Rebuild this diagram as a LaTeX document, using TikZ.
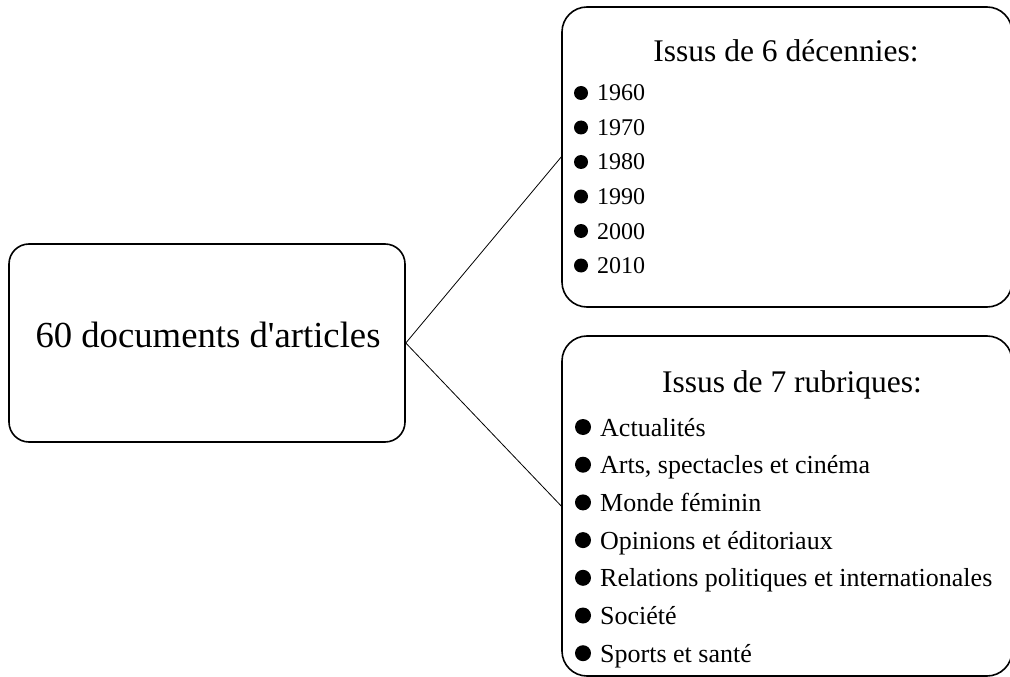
\documentclass[tikz,border=0pt]{standalone}
\usepackage{fontspec}
\setmainfont{Liberation Serif}[Ligatures=TeXOff]
\begin{document}
\begin{tikzpicture}[x=1bp,y=-1bp,
  box/.style={draw=black, line width=1.6bp, rectangle, inner sep=0pt},
  conn/.style={draw=black, line width=0.8bp},
  bul/.style={circle, fill=black, inner sep=0pt},
  roottxt/.style={font=\fontsize{36.7bp}{44bp}\selectfont, anchor=base, inner sep=0pt},
  titletxt/.style={font=\fontsize{31.5bp}{38bp}\selectfont, anchor=base, inner sep=0pt},
  itemA/.style={font=\fontsize{24bp}{29bp}\selectfont, anchor=base west, inner sep=0pt},
  itemB/.style={font=\fontsize{26bp}{31bp}\selectfont, anchor=base west, inner sep=0pt}]
\useasboundingbox (0,0) rectangle (1010,677);
\clip (0,0) rectangle (1010,677);
% boxes
\node[box, minimum width=396bp, minimum height=198bp, rounded corners=20bp] (root) at (207,343) {};
\node[box, minimum width=450bp, minimum height=300bp, rounded corners=25bp] (dec) at (787,157) {};
\node[box, minimum width=450bp, minimum height=340bp, rounded corners=25bp] (rub) at (787,506) {};
% connectors
\draw[conn] (root.east) -- (dec.west);
\draw[conn] (root.east) -- (rub.west);
% texts
\node[roottxt] (roottext) at (208,347) {60 documents d'articles};
\node[titletxt] (dectitle) at (786,62) {Issus de 6 décennies:};
\node[titletxt] (rubtitle) at (792,392) {Issus de 7 rubriques:};
% decades
\foreach \lab [count=\i] in {1960,1970,1980,1990,2000,2010}{
  \pgfmathsetmacro{\yb}{101+34.5*(\i-1)}
  \node[bul, minimum size=14bp] (db\i) at (581,\yb-8) {};
  \node[itemA] (d\i) at (597,\yb) {\lab};
}
% rubriques
\foreach \lab [count=\i] in {Actualités,{Arts, spectacles et cinéma},Monde féminin,Opinions et éditoriaux,Relations politiques et internationales,Société,Sports et santé}{
  \pgfmathsetmacro{\yb}{436+37.7*(\i-1)}
  \node[bul, minimum size=16bp] (rb\i) at (583,\yb-9) {};
  \node[itemB] (r\i) at (600,\yb) {\lab};
}
\end{tikzpicture}
\end{document}
